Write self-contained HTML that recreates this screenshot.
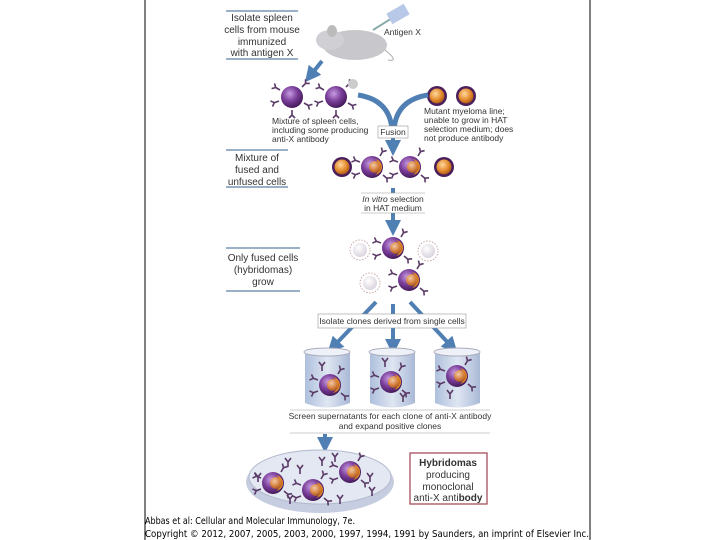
<!DOCTYPE html>
<html><head><meta charset="utf-8"><style>
html,body{margin:0;padding:0;background:#fff;}
svg{display:block}
text{font-family:"Liberation Sans",sans-serif;fill:#333}
.s{font-size:8.5px}
.m{font-size:10px}
</style></head><body>
<svg width="720" height="540" viewBox="0 0 720 540" xmlns="http://www.w3.org/2000/svg">
<defs>
<radialGradient id="pur" cx="0.4" cy="0.35" r="0.7"><stop offset="0" stop-color="#c79be0"/><stop offset="0.5" stop-color="#7a3e9a"/><stop offset="1" stop-color="#3c1550"/></radialGradient>
<radialGradient id="org" cx="0.4" cy="0.35" r="0.7"><stop offset="0" stop-color="#ffd9a0"/><stop offset="0.6" stop-color="#e48a2c"/><stop offset="1" stop-color="#a0521a"/></radialGradient>
<radialGradient id="pale" cx="0.4" cy="0.35" r="0.7"><stop offset="0" stop-color="#ffffff"/><stop offset="1" stop-color="#d8d0dc"/></radialGradient>
<linearGradient id="glass" x1="0" x2="1"><stop offset="0" stop-color="#aebfdc"/><stop offset="0.5" stop-color="#dfe6f2"/><stop offset="1" stop-color="#a9b9d6"/></linearGradient>
<g id="ab"><path d="M0 0 L0 -5 M0 -5 L-3 -8 M0 -5 L3 -8" stroke="#5a3a66" stroke-width="1.6" fill="none"/></g>
<g id="spl">
 <use href="#ab" transform="translate(-12,-7) rotate(-60)"/><use href="#ab" transform="translate(-13,4) rotate(-110)"/>
 <use href="#ab" transform="translate(10,-10) rotate(45)"/><use href="#ab" transform="translate(12,6) rotate(120)"/>
 <use href="#ab" transform="translate(0,13) rotate(180)"/>
 <circle r="11" fill="url(#pur)"/>
</g>
<g id="orc"><circle r="10" fill="#4a1f5c"/><circle r="7.5" fill="url(#org)"/></g>
<g id="hyb">
 <use href="#ab" transform="translate(-12,-5) rotate(-70)"/><use href="#ab" transform="translate(-12,6) rotate(-110)"/>
 <use href="#ab" transform="translate(8,-11) rotate(30)"/><use href="#ab" transform="translate(11,8) rotate(130)"/>
 <circle r="11" fill="url(#pur)"/><path d="M2 -8 A8 8 0 0 1 2 8 A5 8 0 0 0 2 -8Z" fill="#e48a2c"/><circle cx="3" r="6" fill="url(#org)" opacity="0.85"/>
</g>
<g id="pc"><circle r="10" fill="none" stroke="#c9a7a7" stroke-dasharray="1.5 1.5"/><circle r="7" fill="url(#pale)"/></g>
<g id="abf"><path d="M0 4 L0 -1 M0 -1 L-3 -5 M0 -1 L3 -5" stroke="#5a3a66" stroke-width="1.6" fill="none"/></g>
<marker id="ah" markerWidth="4" markerHeight="4" refX="2" refY="2" orient="auto"><path d="M0 0 L4 2 L0 4Z" fill="#4f7fb3"/></marker>
</defs>

<line x1="145" y1="0" x2="145" y2="540" stroke="#000" stroke-width="1"/>
<line x1="590" y1="0" x2="590" y2="540" stroke="#000" stroke-width="1"/>

<g stroke="#9ab0c8" stroke-width="2">
<line x1="226" y1="11" x2="298" y2="11"/><line x1="226" y1="59" x2="298" y2="59"/>
<line x1="226" y1="150" x2="288" y2="150"/><line x1="226" y1="187" x2="288" y2="187"/>
<line x1="226" y1="248" x2="300" y2="248"/><line x1="226" y1="291" x2="300" y2="291"/>
</g>
<text class="m" text-anchor="middle"><tspan x="262" y="21">Isolate spleen</tspan><tspan x="262" y="33">cells from mouse</tspan><tspan x="262" y="45">immunized</tspan><tspan x="262" y="56">with antigen X</tspan></text>
<text class="m" text-anchor="middle"><tspan x="257" y="161">Mixture of</tspan><tspan x="257" y="173">fused and</tspan><tspan x="257" y="185">unfused cells</tspan></text>
<text class="m" text-anchor="middle"><tspan x="263" y="261">Only fused cells</tspan><tspan x="263" y="273">(hybridomas)</tspan><tspan x="263" y="285">grow</tspan></text>

<ellipse cx="355" cy="45" rx="32" ry="15" fill="#c8c8cc"/>
<ellipse cx="330" cy="40" rx="14" ry="10" fill="#d0d0d4"/>
<ellipse cx="332" cy="31" rx="5" ry="6" fill="#bbb"/>
<path d="M385 50 Q400 62 388 60" stroke="#aaa" fill="none"/>
<path d="M373 30 L405 10" stroke="#8aa" stroke-width="2"/>
<rect x="388" y="8" width="20" height="12" fill="#b8c8e8" transform="rotate(-30 398 14)"/>
<text class="s" x="384" y="35">Antigen X</text>
<line x1="322" y1="61" x2="310" y2="76" stroke="#4f7fb3" stroke-width="4" marker-end="url(#ah)"/>

<use href="#spl" x="292" y="97"/><use href="#spl" x="336" y="97"/>
<circle cx="353" cy="84" r="5" fill="#ccc"/>
<use href="#orc" x="437" y="96"/><use href="#orc" x="466" y="96"/>
<path d="M358 95 Q390 100 392 130" stroke="#4f7fb3" stroke-width="5" fill="none"/>
<path d="M428 95 Q396 100 394 130" stroke="#4f7fb3" stroke-width="5" fill="none"/>
<line x1="393" y1="138" x2="393" y2="148" stroke="#4f7fb3" stroke-width="4" marker-end="url(#ah)"/>
<rect x="378" y="126" width="30" height="12" fill="#fff" stroke="#999" stroke-width="0.6"/>
<text class="s" x="393" y="135" text-anchor="middle">Fusion</text>
<text class="s"><tspan x="272" y="124">Mixture of spleen cells,</tspan><tspan x="272" y="133">including some producing</tspan><tspan x="272" y="142">anti-X antibody</tspan></text>
<text class="s"><tspan x="424" y="114">Mutant myeloma line;</tspan><tspan x="424" y="123">unable to grow in HAT</tspan><tspan x="424" y="132">selection medium; does</tspan><tspan x="424" y="141">not produce antibody</tspan></text>

<use href="#orc" x="342" y="167"/><use href="#hyb" x="372" y="167"/><use href="#hyb" x="410" y="167"/><use href="#orc" x="444" y="167"/>

<line x1="393" y1="188" x2="393" y2="228" stroke="#4f7fb3" stroke-width="4" marker-end="url(#ah)"/>
<rect x="361" y="193" width="64" height="20" fill="#fff"/>
<line x1="361" y1="193" x2="425" y2="193" stroke="#999" stroke-width="0.6"/><line x1="361" y1="213" x2="425" y2="213" stroke="#999" stroke-width="0.6"/>
<text class="s" text-anchor="middle"><tspan x="393" y="202" font-style="italic">In vitro</tspan><tspan> selection</tspan><tspan x="393" y="211">in HAT medium</tspan></text>

<use href="#pc" x="360" y="250"/><use href="#hyb" x="393" y="248"/><use href="#pc" x="428" y="251"/>
<use href="#pc" x="370" y="283"/><use href="#hyb" x="409" y="280"/>

<g stroke="#4f7fb3" stroke-width="4" marker-end="url(#ah)">
<line x1="376" y1="302" x2="333" y2="347"/><line x1="393" y1="304" x2="393" y2="347"/><line x1="410" y1="302" x2="452" y2="347"/>
</g>
<rect x="318" y="314" width="148" height="14" fill="#fff" stroke="#999" stroke-width="0.6"/>
<text class="s" x="392" y="324" text-anchor="middle">Isolate clones derived from single cells</text>

<g>
<path d="M305 352 L305 403 Q327 412 350 403 L350 352Z" fill="url(#glass)"/><ellipse cx="327" cy="352" rx="23" ry="4" fill="#eef2f8" stroke="#aab"/>
<path d="M370 352 L370 403 Q392 412 415 403 L415 352Z" fill="url(#glass)"/><ellipse cx="392" cy="352" rx="23" ry="4" fill="#eef2f8" stroke="#aab"/>
<path d="M435 352 L435 403 Q457 412 480 403 L480 352Z" fill="url(#glass)"/><ellipse cx="457" cy="352" rx="23" ry="4" fill="#eef2f8" stroke="#aab"/>
</g>
<use href="#hyb" x="330" y="385"/><use href="#hyb" x="391" y="382"/><use href="#hyb" x="457" y="376"/>
<use href="#abf" x="385" y="363"/><use href="#abf" x="403" y="398"/><use href="#abf" x="450" y="395"/><use href="#abf" x="322" y="367"/>

<rect x="290" y="410" width="200" height="23" fill="#fff"/>
<line x1="290" y1="410" x2="490" y2="410" stroke="#999" stroke-width="0.6"/><line x1="290" y1="433" x2="490" y2="433" stroke="#999" stroke-width="0.6"/>
<text class="s" text-anchor="middle"><tspan x="390" y="419">Screen supernatants for each clone of anti-X antibody</tspan><tspan x="390" y="429">and expand positive clones</tspan></text>
<line x1="325" y1="434" x2="325" y2="445" stroke="#4f7fb3" stroke-width="4" marker-end="url(#ah)"/>

<ellipse cx="320" cy="482" rx="74" ry="31" fill="#c6cde0"/>
<ellipse cx="320" cy="477" rx="71" ry="27" fill="#e4e8f2" stroke="#b0b8cc"/>
<use href="#hyb" x="273" y="483"/><use href="#hyb" x="350" y="472"/><use href="#hyb" x="313" y="490"/>
<use href="#abf" x="258" y="478"/><use href="#abf" x="322" y="462"/><use href="#abf" x="370" y="478"/><use href="#abf" x="372" y="492"/><use href="#abf" x="290" y="500"/><use href="#abf" x="340" y="500"/><use href="#abf" x="335" y="458"/><use href="#abf" x="288" y="463"/><use href="#abf" x="300" y="470"/>

<rect x="410" y="453" width="77" height="51" fill="#fff" stroke="#a04050" stroke-width="1.2"/>
<text class="m" text-anchor="middle"><tspan x="448" y="466" font-weight="bold">Hybridomas</tspan><tspan x="448" y="478">producing</tspan><tspan x="448" y="490">monoclonal</tspan><tspan x="448" y="501">anti-X anti</tspan><tspan font-weight="bold">body</tspan></text>

<text x="145" y="524" style="font-family:'DejaVu Sans',sans-serif;font-size:10px;fill:#000" textLength="210" lengthAdjust="spacingAndGlyphs">Abbas et al: Cellular and Molecular Immunology, 7e.</text>
<text x="145" y="537" style="font-family:'DejaVu Sans',sans-serif;font-size:10px;fill:#000" textLength="444" lengthAdjust="spacingAndGlyphs">Copyright © 2012, 2007, 2005, 2003, 2000, 1997, 1994, 1991 by Saunders, an imprint of Elsevier Inc.</text>
</svg>
</body></html>
